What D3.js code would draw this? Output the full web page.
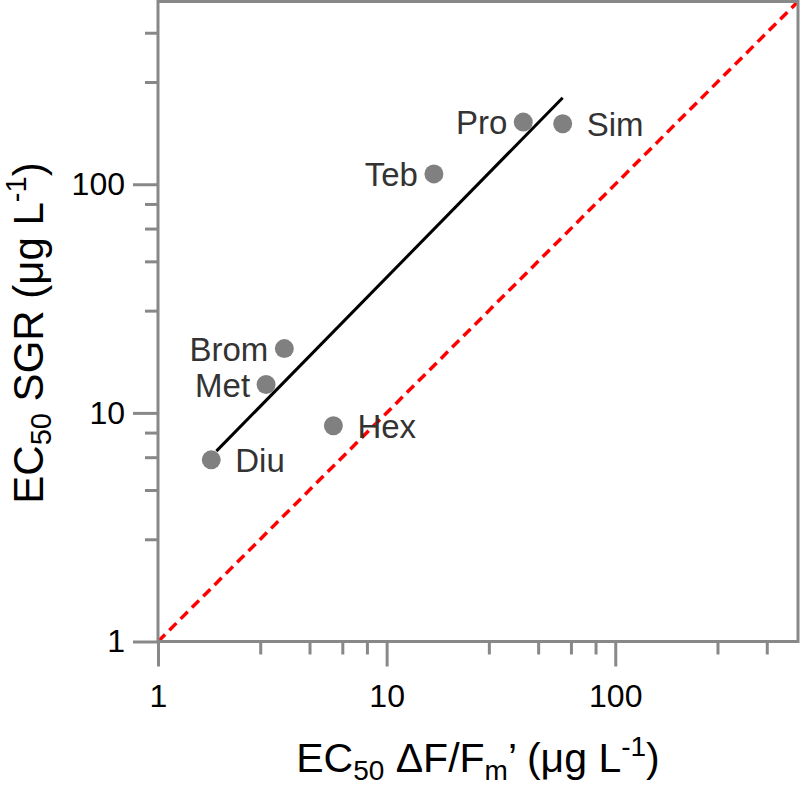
<!DOCTYPE html>
<html>
<head>
<meta charset="utf-8">
<script src="https://cdn.jsdelivr.net/npm/d3@7"></script>
<style>
  body { margin: 0; background: #fff; }
  text { font-family: "Liberation Sans", Arial, sans-serif; }
</style>
</head>
<body>
<svg id="svg0"></svg>
<script>
// compounds: EC50 dF/Fm' (x) vs EC50 SGR (y), ug/L
let names = ['Diu', 'Met', 'Brom', 'Hex', 'Teb', 'Pro', 'Sim'];
let ecFluor = [1.71, 2.97, 3.57, 5.85, 16.1, 39.6, 58.9];
let ecGrowth = [6.23, 13.3, 19.1, 8.78, 111, 187, 184];
let labelSide = ['right', 'left', 'left', 'right', 'left', 'left', 'right'];

// regression line end points
let fitX = [1.8, 58.9];
let fitY = [6.8, 239];

let majorTicks = [1, 10, 100];
let minorTicks = [2.8, 4.6, 6.4, 8.2, 28, 46, 64, 82, 280, 460];
let axisMax = 630;

let margin = {top: 1.5, left: 158};
let width = 640, height = 640;

let svg = d3.select('#svg0').attr('width', 800).attr('height', 785);
let g = svg.append('g').attr('transform', 'translate(' + margin.left + ', ' + margin.top + ')');

let xScale = d3.scaleLog().domain([1, axisMax]).range([0, width]);
let yScale = d3.scaleLog().domain([1, axisMax]).range([height, 0]);

// 1:1 line
g.append('line')
    .attr('x1', xScale(1)).attr('y1', yScale(1))
    .attr('x2', xScale(axisMax)).attr('y2', yScale(axisMax))
    .style('stroke', '#ff0000').style('stroke-width', 3.5).style('stroke-dasharray', '10,6');

// axes - minor ticks
let tickColor = '#888888';
g.append('g').attr('class', 'minor').attr('transform', 'translate(0, ' + height + ')')
    .call(d3.axisBottom(xScale).tickValues(minorTicks).tickSize(13).tickFormat(''));
g.append('g').attr('class', 'minor')
    .call(d3.axisLeft(yScale).tickValues(minorTicks).tickSize(13).tickFormat(''));

// axes - major ticks
g.append('g').attr('class', 'major xmajor').attr('transform', 'translate(0, ' + height + ')')
    .call(d3.axisBottom(xScale).tickValues(majorTicks).tickSize(25).tickPadding(18).tickFormat(d3.format('d')));
g.append('g').attr('class', 'major')
    .call(d3.axisLeft(yScale).tickValues(majorTicks).tickSize(25).tickPadding(8).tickFormat(d3.format('d')));

g.selectAll('.domain').remove();
g.selectAll('.tick line').style('stroke', tickColor).style('stroke-width', 3);
g.selectAll('.major text').style('font-size', '32px').style('fill', '#000')
    .style('font-family', '"Liberation Sans", Arial, sans-serif');
g.selectAll('.xmajor text').attr('dy', '0.71em');

// frame
g.append('rect').attr('width', width).attr('height', height)
    .style('fill', 'none').style('stroke', tickColor).style('stroke-width', 3);

// regression line
g.append('line')
    .attr('x1', xScale(fitX[0])).attr('y1', yScale(fitY[0]))
    .attr('x2', xScale(fitX[1])).attr('y2', yScale(fitY[1]))
    .style('stroke', '#000').style('stroke-width', 3);

// points
g.selectAll('.dot').data(names).enter().append('circle')
    .attr('class', 'dot')
    .attr('cx', (d, i) => xScale(ecFluor[i]))
    .attr('cy', (d, i) => yScale(ecGrowth[i]))
    .attr('r', 9.5)
    .style('fill', '#808080');

g.selectAll('.lbl').data(names).enter().append('text')
    .attr('class', 'lbl')
    .attr('x', (d, i) => xScale(ecFluor[i]) + (labelSide[i] == 'right' ? 24 : -16))
    .attr('y', (d, i) => yScale(ecGrowth[i]) + 12)
    .style('text-anchor', (d, i) => labelSide[i] == 'right' ? 'start' : 'end')
    .style('font-size', '33px').style('fill', '#333')
    .text(d => d);

// x title
let xt = svg.append('text').attr('x', margin.left + width / 2).attr('y', 772)
    .style('text-anchor', 'middle').style('font-size', '41px').style('fill', '#000');
xt.append('tspan').text('EC');
xt.append('tspan').text('50').style('font-size', '28px').attr('dy', 8);
xt.append('tspan').text(' \u0394F/F').attr('dy', -8);
xt.append('tspan').text('m').style('font-size', '28px').attr('dy', 8);
xt.append('tspan').text('\u2019 (\u03bcg L').attr('dy', -8);
xt.append('tspan').text('-1').style('font-size', '28px').attr('dy', -16);
xt.append('tspan').text(')').attr('dy', 16);

// y title
let yt = svg.append('text').attr('transform', 'translate(43, 333) rotate(-90)')
    .style('text-anchor', 'middle').style('font-size', '42px').style('fill', '#000');
yt.append('tspan').text('EC');
yt.append('tspan').text('50').style('font-size', '29px').attr('dy', 8);
yt.append('tspan').text(' SGR (\u03bcg L').attr('dy', -8);
yt.append('tspan').text('-1').style('font-size', '29px').attr('dy', -17);
yt.append('tspan').text(')').attr('dy', 17);
</script>
</body>
</html>
